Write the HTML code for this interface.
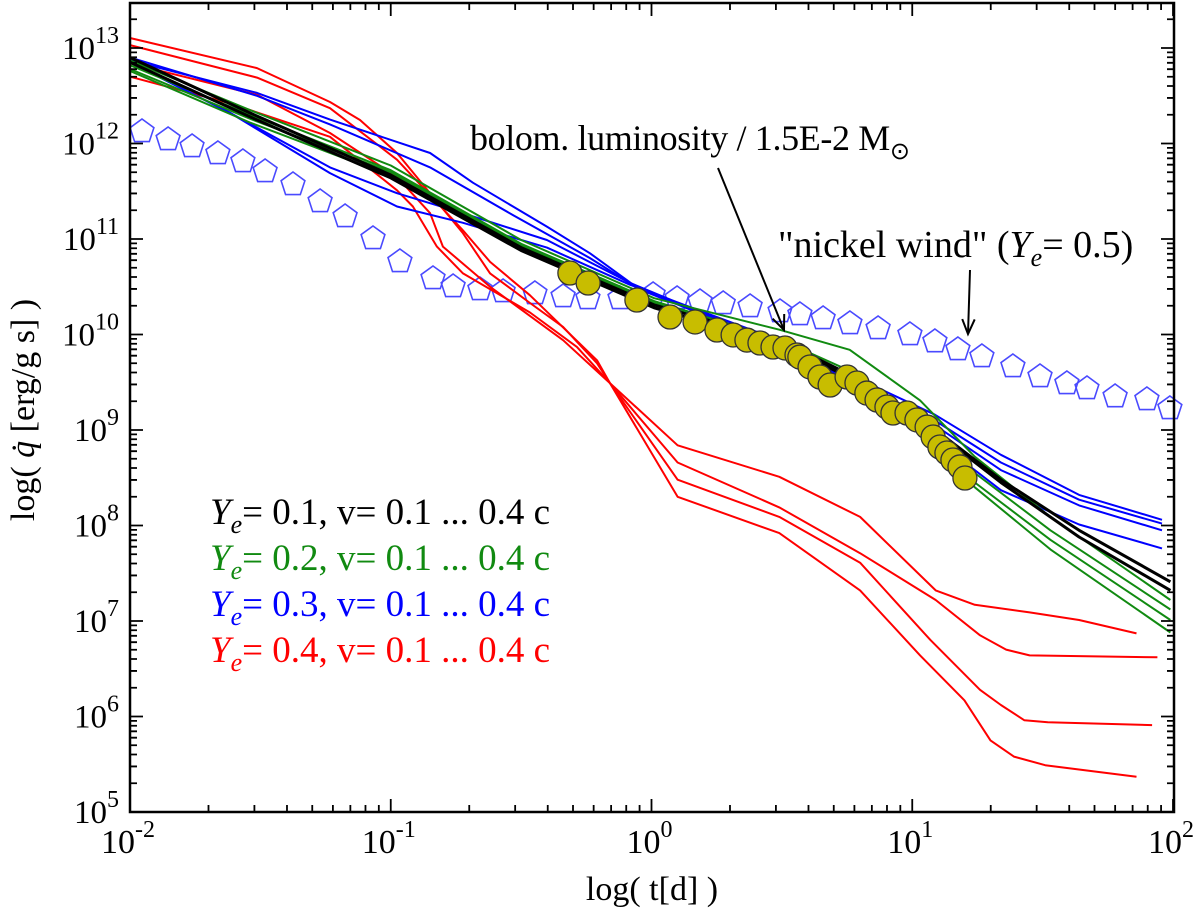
<!DOCTYPE html>
<html><head><meta charset="utf-8"><style>
html,body{margin:0;padding:0;background:#fff;}
svg{display:block;font-family:"Liberation Serif",serif;}
</style></head><body>
<svg id="chart" width="1200" height="911" viewBox="0 0 1200 911">
<g id="marks"></g>
<g id="axes"></g>
<text x="470" y="150" font-size="36" fill="#000" textLength="440">bolom. luminosity / 1.5E-2 M<tspan font-size="24" dy="9">⊙</tspan></text>
<text x="778" y="257" font-size="38" fill="#000">"nickel wind" (<tspan font-style="italic">Y</tspan><tspan font-style="italic" font-size="26" dy="9">e</tspan><tspan dy="-9">= 0.5)</tspan></text>
<g font-size="37">
<text x="210" y="524" fill="#000"><tspan font-style="italic">Y</tspan><tspan font-style="italic" font-size="26" dy="9">e</tspan><tspan dy="-9">= 0.1, v= 0.1 ... 0.4 c</tspan></text>
<text x="210" y="570" fill="#118a11"><tspan font-style="italic">Y</tspan><tspan font-style="italic" font-size="26" dy="9">e</tspan><tspan dy="-9">= 0.2, v= 0.1 ... 0.4 c</tspan></text>
<text x="210" y="616" fill="#0000ff"><tspan font-style="italic">Y</tspan><tspan font-style="italic" font-size="26" dy="9">e</tspan><tspan dy="-9">= 0.3, v= 0.1 ... 0.4 c</tspan></text>
<text x="210" y="662" fill="#ff0000"><tspan font-style="italic">Y</tspan><tspan font-style="italic" font-size="26" dy="9">e</tspan><tspan dy="-9">= 0.4, v= 0.1 ... 0.4 c</tspan></text>
</g>
<text x="652" y="900" font-size="34" text-anchor="middle">log( t[d] )</text>
<text transform="translate(34,410) rotate(-90)" font-size="34" text-anchor="middle">log( <tspan font-style="italic">q̇</tspan> [erg/g s] )</text>
</svg>
<script>
const xTicks = [-2,-1,0,1,2];
const yTicks = [5,6,7,8,9,10,11,12,13];
// Ye=0.1 (black)
const blackT = [-2,-1.54,-1,-0.5,0.01,0.49,0.76,1.09,1.34,1.64,1.99];
const black1 = [12.9,12.32,11.67,10.91,10.31,9.94,9.58,9.0,8.48,7.95,7.41];
const black2 = [12.85,12.28,11.64,10.88,10.28,9.90,9.55,8.98,8.45,7.88,7.32];
// Ye=0.2 (green)
const greenT = [-2,-1.54,-1,-0.5,0.01,0.49,0.76,1.03,1.24,1.53,1.99];
const green1 = [12.87,12.35,11.77,10.99,10.38,10.05,9.84,9.31,8.72,8.09,7.22];
const green2 = [12.82,12.3,11.72,10.95,10.35,9.95,9.62,9.05,8.55,7.95,7.12];
const green3 = [12.78,12.26,11.70,10.93,10.33,9.93,9.58,9.0,8.45,7.85,7.01];
const green4 = [12.76,12.22,11.66,10.92,10.32,9.92,9.57,8.98,8.40,7.75,6.88];
// Ye=0.3 (blue)
const blue1T = [-2,-1.513,-1.233,-0.849,-0.685,-0.531,-0.401,-0.236,-0.044,0.49,0.76,1.087,1.34,1.64,1.958];
const blue1Q = [12.87,12.53,12.25,11.90,11.59,11.34,11.13,10.85,10.47,9.94,9.58,9.16,8.74,8.32,8.06];
const blue2T = [-2,-1.513,-1.233,-0.849,-0.531,-0.236,-0.044,0.49,0.76,1.087,1.34,1.64,1.958];
const blue2Q = [12.9,12.50,12.2,11.75,11.25,10.80,10.47,9.89,9.52,9.10,8.66,8.27,8.02];
const blue3T = [-2,-1.616,-1.233,-0.976,-0.723,-0.401,-0.082,0.49,0.76,1.087,1.34,1.64,1.958];
const blue3Q = [12.85,12.32,11.75,11.48,11.27,10.99,10.54,9.89,9.47,8.90,8.37,8.01,7.76];
const blue4T = [-2,-1.616,-1.233,-0.976,-0.723,-0.401,-0.082,0.49,0.76,1.087,1.34,1.64,1.958];
const blue4Q = [12.85,12.32,11.69,11.34,11.17,10.91,10.52,9.94,9.54,9.05,8.58,8.21,7.95];
// Ye=0.4 (red)
const red1T = [-2,-1.513,-1.233,-1.118,-0.976,-0.849,-0.723,-0.619,-0.466,-0.339,-0.209,-0.159,0.1,0.49,0.8,1.09,1.24,1.45,1.64,1.86];
const red1Q = [13.105,12.79,12.435,12.246,11.90,11.48,11.06,10.64,10.33,10.08,9.70,9.49,8.84,8.51,8.09,7.32,7.17,7.09,7.01,6.87];
const red2T = [-2,-1.513,-1.233,-0.976,-0.723,-0.619,-0.466,-0.209,-0.159,0.1,0.49,0.8,1.09,1.26,1.36,1.45,1.94];
const red2Q = [13.03,12.69,12.37,11.83,11.09,10.76,10.41,9.73,9.49,8.66,8.19,7.71,7.22,6.85,6.70,6.64,6.62];
const red3T = [-2,-1.513,-1.233,-0.976,-0.849,-0.8,-0.619,-0.339,-0.159,0.1,0.49,0.8,1.07,1.26,1.34,1.43,1.52,1.92];
const red3Q = [12.84,12.51,12.11,11.65,11.27,10.92,10.50,9.94,9.49,8.48,8.09,7.61,6.80,6.28,6.12,5.96,5.94,5.91];
const red4T = [-2,-1.616,-1.233,-0.976,-0.915,-0.823,-0.723,-0.466,-0.286,-0.159,0.1,0.49,0.8,1.03,1.2,1.3,1.39,1.51,1.86];
const red4Q = [12.70,12.42,12.07,11.51,11.34,10.92,10.64,10.23,9.87,9.49,8.30,7.92,7.32,6.64,6.17,5.75,5.58,5.49,5.37];
// nickel wind (pentagons)
const windT = [-1.954,-1.854,-1.762,-1.663,-1.567,-1.482,-1.375,-1.271,-1.175,-1.068,-0.965,-0.838,-0.761,-0.658,-0.569,-0.447,-0.339,-0.244,-0.121,0.006,0.098,0.186,0.275,0.378,0.493,0.569,0.658,0.761,0.869,0.991,1.087,1.175,1.267,1.386,1.490,1.593,1.670,1.778,1.900,1.988];
const windQ = [12.141,12.058,11.984,11.911,11.827,11.723,11.586,11.408,11.251,11.021,10.780,10.602,10.518,10.487,10.466,10.445,10.414,10.393,10.393,10.435,10.393,10.361,10.340,10.309,10.257,10.225,10.183,10.131,10.079,10.016,9.942,9.859,9.785,9.681,9.576,9.503,9.450,9.366,9.335,9.241];
// bolometric luminosity (circles)
const bolT = [-0.313,-0.243,-0.056,0.071,0.167,0.251,0.313,0.366,0.416,0.466,0.512,0.558,0.569,0.608,0.646,0.685,0.750,0.788,0.826,0.865,0.903,0.926,0.980,1.018,1.057,1.080,1.106,1.133,1.156,1.183,1.202];
const bolQ = [10.644,10.539,10.361,10.183,10.131,10.047,9.995,9.942,9.911,9.869,9.859,9.785,9.764,9.660,9.555,9.471,9.555,9.492,9.387,9.314,9.241,9.178,9.178,9.105,9.031,8.927,8.822,8.759,8.686,8.613,8.497];

const X0=130, X1=1174, Y0=3, Y1=812;
const xs = v => 130 + (v + 2) * 260.75;
const ys = v => 812 - (v - 5) * 95.5;
const NS='http://www.w3.org/2000/svg';
const marks=document.getElementById('marks');
const axes=document.getElementById('axes');
function mk(tag, attrs, parent){const e=document.createElementNS(NS,tag);for(const k in attrs)e.setAttribute(k,attrs[k]);parent.appendChild(e);return e;}

function line(T,Q,color,w,name){
  const d=T.map((t,i)=>(i?'L':'M')+xs(t).toFixed(1)+','+ys(Q[i]).toFixed(1)).join('');
  const p=mk('path',{d:d,fill:'none',stroke:color,'stroke-width':w,'stroke-linejoin':'round'},marks);
  
  
}
windT.forEach((t,i)=>{
  const cx=xs(t), cy=ys(windQ[i]), r=12.5;
  let pts=[];
  for(let k=0;k<5;k++){const a=-Math.PI/2+k*2*Math.PI/5;pts.push((cx+r*Math.cos(a)).toFixed(1)+','+(cy+r*Math.sin(a)+1.5).toFixed(1));}
  const p=mk('polygon',{points:pts.join(' '),fill:'none',stroke:'#4a4aff','stroke-width':1.6},marks);
  
  
});
line(red1T,red1Q,'#ff0000',2,'ye04-line-1');
line(red2T,red2Q,'#ff0000',2,'ye04-line-2');
line(red3T,red3Q,'#ff0000',2,'ye04-line-3');
line(red4T,red4Q,'#ff0000',2,'ye04-line-4');
line(blue1T,blue1Q,'#0000ff',2,'ye03-line-1');
line(blue2T,blue2Q,'#0000ff',2,'ye03-line-2');
line(blue3T,blue3Q,'#0000ff',2,'ye03-line-3');
line(blue4T,blue4Q,'#0000ff',2,'ye03-line-4');
line(greenT,green1,'#118a11',2,'ye02-line-1');
line(greenT,green2,'#118a11',2,'ye02-line-2');
line(greenT,green3,'#118a11',2,'ye02-line-3');
line(greenT,green4,'#118a11',2,'ye02-line-4');
line(blackT,black1,'#000',3,'ye01-line-1');
line(blackT,black2,'#000',3,'ye01-line-2');
bolT.forEach((t,i)=>{
  const c=mk('circle',{cx:xs(t),cy:ys(bolQ[i]),r:12,fill:'#c8bd00',stroke:'#333','stroke-width':1.3},marks);
  
  
});
function arrow(x1,y1,x2,y2,name){
  const g=mk('g',{},marks);
  
  
  mk('line',{x1:x1,y1:y1,x2:x2,y2:y2,stroke:'#000','stroke-width':2},g);
  const a=Math.atan2(y2-y1,x2-x1), L=16, s=0.4;
  mk('path',{d:`M${x2-L*Math.cos(a-s)},${y2-L*Math.sin(a-s)}L${x2},${y2}L${x2-L*Math.cos(a+s)},${y2-L*Math.sin(a+s)}`,fill:'none',stroke:'#000','stroke-width':2},g);
}
arrow(718,168,784,330,'bolometric-arrow');
arrow(970,270,968,334,'nickel-wind-arrow');

const fr=mk('rect',{x:X0,y:Y0,width:X1-X0,height:Y1-Y0,fill:'none',stroke:'#000','stroke-width':2.5},axes);


let td='';
for(let d=-2; d<2; d++){
  for(let m=1;m<10;m++){const x=xs(d+Math.log10(m));const L=m==1?13:7;td+=`M${x},${Y1}v${-L}M${x},${Y0}v${L}`;}
}
td+=`M${xs(2)},${Y1}v-13M${xs(2)},${Y0}v13`;
for(let d=5; d<14; d++){
  for(let m=1;m<10;m++){const v=d+Math.log10(m);if(v>13.47)continue;const y=ys(v);const L=m==1?13:7;td+=`M${X0},${y}h${L}M${X1},${y}h${-L}`;}
}
mk('path',{d:td,stroke:'#000','stroke-width':1.8,fill:'none'},axes);
xTicks.forEach(v=>{
  const t=mk('text',{x:xs(v)-2,y:853,'font-size':34,'text-anchor':'middle'},axes);
  
  
  t.innerHTML='10<tspan font-size="24" dy="-16">'+v+'</tspan>';
});
yTicks.forEach(v=>{
  const t=mk('text',{x:119,y:ys(v)+11,'font-size':33,'text-anchor':'end'},axes);
  
  
  t.innerHTML='10<tspan font-size="24" dy="-16">'+v+'</tspan>';
});
</script>
</body></html>
